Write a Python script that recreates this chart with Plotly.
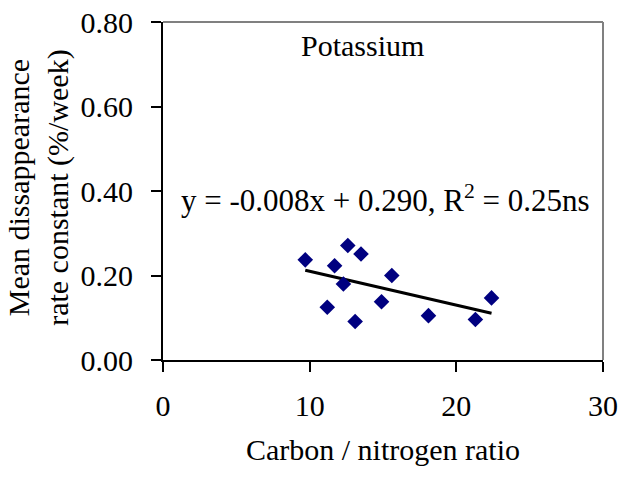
import plotly.graph_objects as go

# Data
cn_ratio = [9.7, 11.7, 12.6, 13.5, 12.3, 11.2, 13.1, 15.6, 14.9, 18.1, 21.3, 22.4]
rate_const = [0.237, 0.223, 0.271, 0.251, 0.180, 0.125, 0.091, 0.200, 0.138, 0.105, 0.096, 0.147]

slope = -0.008
intercept = 0.290

x_ticks = [0, 10, 20, 30]
y_ticks = [0.0, 0.2, 0.4, 0.6, 0.8]

fit_x = [min(cn_ratio), max(cn_ratio)]
fit_y = [slope * v + intercept for v in fit_x]

FONT = "Liberation Serif, Times New Roman, serif"

fig = go.Figure()
fig.add_trace(go.Scatter(
    x=fit_x, y=fit_y, mode="lines",
    line=dict(color="black", width=3), showlegend=False, hoverinfo="skip"))
fig.add_trace(go.Scatter(
    x=cn_ratio, y=rate_const, mode="markers",
    marker=dict(symbol="diamond", size=12, color="#000080", line=dict(width=0)),
    showlegend=False))

fig.update_layout(
    width=619, height=480,
    margin=dict(l=163, r=16, t=22, b=120),
    paper_bgcolor="white", plot_bgcolor="white",
    font=dict(family=FONT, size=30, color="black"),
    xaxis=dict(
        range=[0, 30], tickvals=x_ticks, ticktext=[str(v) for v in x_ticks],
        automargin=False,
        showgrid=False, zeroline=False,
        showline=True, linecolor="black", linewidth=2,
        ticks="outside", ticklen=10, tickwidth=2, tickcolor="black",
        ticklabelstandoff=8,
        tickfont=dict(family=FONT, size=30, color="black"),
        title=dict(text="Carbon / nitrogen ratio", standoff=18,
                   font=dict(family=FONT, size=30, color="black")),
    ),
    yaxis=dict(
        range=[0, 0.8], tickvals=y_ticks, ticktext=[f"{v:.2f}" for v in y_ticks],
        automargin=False,
        showgrid=False, zeroline=False,
        showline=True, linecolor="black", linewidth=2,
        ticks="outside", ticklen=10, tickwidth=2, tickcolor="black",
        ticklabelstandoff=12,
        tickfont=dict(family=FONT, size=30, color="black"),
    ),
    shapes=[
        dict(type="line", xref="paper", yref="paper", x0=0, x1=1, y0=1, y1=1,
             line=dict(color="#808080", width=2)),
        dict(type="line", xref="paper", yref="paper", x0=1, x1=1, y0=0, y1=1,
             line=dict(color="#808080", width=2)),
    ],
    annotations=[
        dict(text="Mean dissappearance<br>rate constant (%/week)",
             x=-0.282, y=0.512, xref="paper", yref="paper", textangle=-90,
             showarrow=False, xanchor="center", yanchor="middle",
             font=dict(family=FONT, size=30, color="black")),
        dict(text="Potassium", x=13.6, y=0.745, xref="x", yref="y",
             showarrow=False, xanchor="center", yanchor="middle",
             font=dict(family=FONT, size=30, color="black")),
        dict(text="y = -0.008x + 0.290, R<sup>2</sup> = 0.25ns", x=1.1, y=0.383,
             xref="x", yref="y", showarrow=False, xanchor="left", yanchor="middle",
             font=dict(family=FONT, size=31, color="black")),
    ],
)

fig.write_html("out.html")
